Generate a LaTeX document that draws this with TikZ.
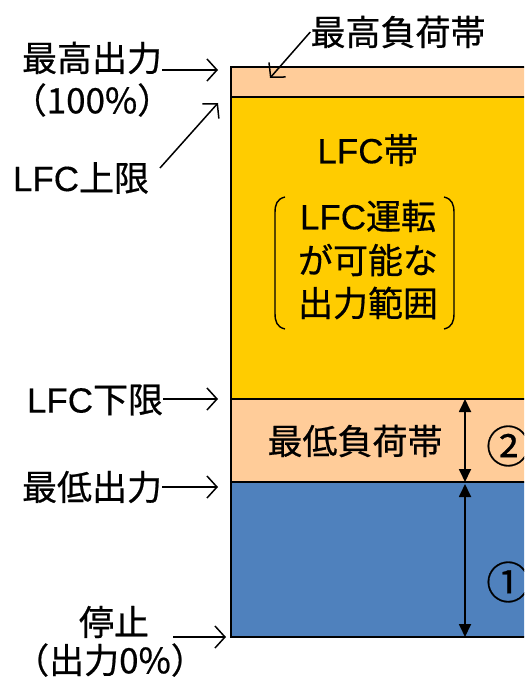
\documentclass[tikz,border=0pt]{standalone}
\usepackage{fontspec}
\setmainfont{Noto Sans CJK JP}[FakeBold=0.6]
\newfontfamily\lat{Liberation Sans}[FakeBold=0.3]
\usetikzlibrary{arrows.meta}
\definecolor{peach}{HTML}{FFCC99}
\definecolor{gold}{HTML}{FFCC00}
\definecolor{steel}{HTML}{4F81BD}
\begin{document}
\begin{tikzpicture}[x=1pt,y=-1pt,
  lbl/.style={font=\fontsize{35}{42}\selectfont, inner sep=0pt, align=center},
  big/.style={font=\fontsize{44}{44}\selectfont, inner sep=0pt},
  ptr/.style={-{Straight Barb[length=10pt,width=22pt,line width=1.5pt]}, line width=1.5pt},
  dbl/.style={{Triangle[length=13pt,width=12pt]}-{Triangle[length=13pt,width=12pt]}, line width=1.8pt},
  edge/.style={line width=1.5pt, black}]
\useasboundingbox (0,0) rectangle (524,679);
\begin{scope}
\clip (0,0) rectangle (524,679);
\fill[peach] (231,67) rectangle (540,97);
\fill[gold] (231,97) rectangle (540,399);
\fill[peach] (231,399) rectangle (540,482);
\fill[steel] (231,482) rectangle (540,637);
\draw[edge] (540,67) -- (231,67) -- (231,637) -- (540,637);
\draw[edge] (231,97) -- (540,97);
\draw[edge] (231,399) -- (540,399);
\draw[edge] (231,482) -- (540,482);
\node[big, anchor=west] (c2) at (486,446) {②};
\node[big, anchor=west] (c1) at (486,582) {①};
\end{scope}

% band texts
\node[lbl] (lfcband) at (368,150) {{\lat LFC}帯};
\node[lbl] (r1) at (368,216) {{\lat LFC}運転};
\node[lbl] (r2) at (368,260) {が可能な};
\node[lbl] (r3) at (368,303) {出力範囲};
\draw[line width=1.4pt] (285,197) .. controls (277,199) and (275,204) .. (275,213) -- (275,313) .. controls (275,322) and (277,327) .. (285,329);
\draw[line width=1.4pt] (444,197) .. controls (452,199) and (454,204) .. (454,213) -- (454,313) .. controls (454,322) and (452,327) .. (444,329);
\node[lbl] (minband) at (355,441) {最低負荷帯};

% double arrows
\coordinate (d1) at (465,399);
\coordinate (d2) at (465,482);
\coordinate (d3) at (465,484);
\coordinate (d4) at (465,637);
\draw[dbl] (d1) -- (d2);
\draw[dbl] (d3) -- (d4);

% left labels
\node[lbl] (maxout) at (92,58) {最高出力};
\node[lbl] (maxpct) at (92,100) {（100\%）};
\coordinate (maxT) at (218,70);
\draw[ptr] (maxout.east |- maxT) -- (maxT);

\node[lbl] (maxband) at (398,32) {最高負荷帯};
\coordinate (maxbandT) at (270,78);
\draw[ptr] (maxband.west) -- (maxbandT);

\node[lbl] (lfcup) at (81,178) {{\lat LFC}上限};
\coordinate (lfcupS) at (160,168);
\coordinate (lfcupT) at (218,103);
\draw[ptr] (lfcupS) -- (lfcupT);

\node[lbl] (lfclow) at (95,400) {{\lat LFC}下限};
\coordinate (lfclowT) at (218,399);
\draw[ptr] (lfclow.east |- lfclowT) -- (lfclowT);

\node[lbl] (minout) at (92,487) {最低出力};
\coordinate (minoutT) at (218,487);
\draw[ptr] (minout.east |- minoutT) -- (minoutT);

\node[lbl] (stop1) at (114,622) {停止};
\node[lbl] (stop2) at (110,660) {（出力0\%）};
\coordinate (stopS) at (173,637);
\coordinate (stopT) at (226,637);
\draw[ptr] (stopS) -- (stopT);
\end{tikzpicture}
\end{document}
